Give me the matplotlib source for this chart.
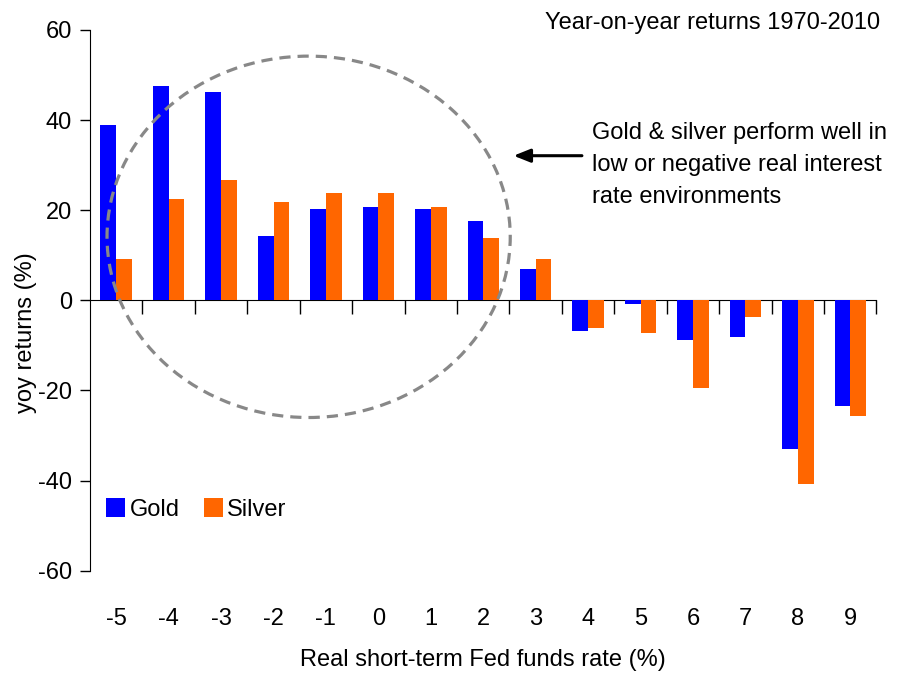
import matplotlib
matplotlib.use("Agg")
import matplotlib.pyplot as plt
import numpy as np
from matplotlib.patches import Ellipse

plt.rcParams['font.family'] = ['Liberation Sans', 'DejaVu Sans']
plt.rcParams['axes.unicode_minus'] = False

# data
rates = ['-5', '-4', '-3', '-2', '-1', '0', '1', '2', '3', '4', '5', '6', '7', '8', '9']
gold = [39.0, 47.5, 46.3, 14.2, 20.3, 20.8, 20.3, 17.7, 6.9, -6.9, -0.9, -8.8, -8.1, -33.0, -23.4]
silver = [9.2, 22.5, 26.8, 21.9, 23.8, 23.8, 20.8, 13.9, 9.2, -6.1, -7.3, -19.4, -3.6, -40.8, -25.7]

fig = plt.figure(figsize=(9.08, 6.77), dpi=100)
ax = fig.add_axes([0.0991, 0.157, 0.8662, 0.7987])

x = np.arange(len(rates))
w = 0.3
ax.bar(x - w / 2, gold, w, color='#0000FF', label='Gold')
ax.bar(x + w / 2, silver, w, color='#FF6600', label='Silver')

ax.set_xlim(-0.5, len(rates) - 0.5)
ax.set_ylim(-60, 60)
ax.set_yticks([-60, -40, -20, 0, 20, 40, 60])
ax.tick_params(axis='y', labelsize=17, length=7, width=1, direction='out', pad=6)

# category labels at the bottom, no tick marks
ax.set_xticks(x)
ax.set_xticklabels(rates)
ax.tick_params(axis='x', labelsize=17, length=0, pad=27)
for s in ['top', 'right', 'bottom']:
    ax.spines[s].set_visible(False)

# zero line with boundary ticks pointing down
sec = ax.secondary_xaxis(0.5)
sec.set_xticks(np.arange(len(rates)) + 0.5)
sec.set_xticklabels([])
sec.tick_params(axis='x', length=10, width=1, direction='in')

ax.set_ylabel('yoy returns (%)', fontsize=17)
ax.yaxis.set_label_coords(-0.068, 0.44)
ax.set_xlabel('Real short-term Fed funds rate (%)', fontsize=17)
ax.xaxis.set_label_coords(0.5, -0.145)

fig.text(880 / 908, 1 - 23 / 677, 'Year-on-year returns 1970-2010', fontsize=17,
         ha='right', va='center')

# dashed ellipse around the low-rate group
el = Ellipse((3.67, 14.1), 7.69, 80.2, fill=False, edgecolor='#888888',
             linewidth=2.3, linestyle=(0, (3.5, 2.2)), clip_on=False)
ax.add_patch(el)

ax.annotate('', xy=(0.535, 0.7675), xytext=(0.629, 0.7675), xycoords='axes fraction',
            arrowprops=dict(arrowstyle='-|>,head_length=1.0,head_width=0.4', color='black', lw=2.2))
ax.text(0.638, 0.750, 'Gold & silver perform well in\nlow or negative real interest\nrate environments',
        transform=ax.transAxes, fontsize=17, ha='left', va='center', linespacing=1.6)

ax.legend(loc='center left', bbox_to_anchor=(0.021, 0.114), ncol=2, frameon=False, fontsize=17,
          handlelength=0.8, handleheight=0.9, handletextpad=0.2, columnspacing=1.0,
          borderpad=0, borderaxespad=0)

fig.savefig('out.png', dpi=100)
